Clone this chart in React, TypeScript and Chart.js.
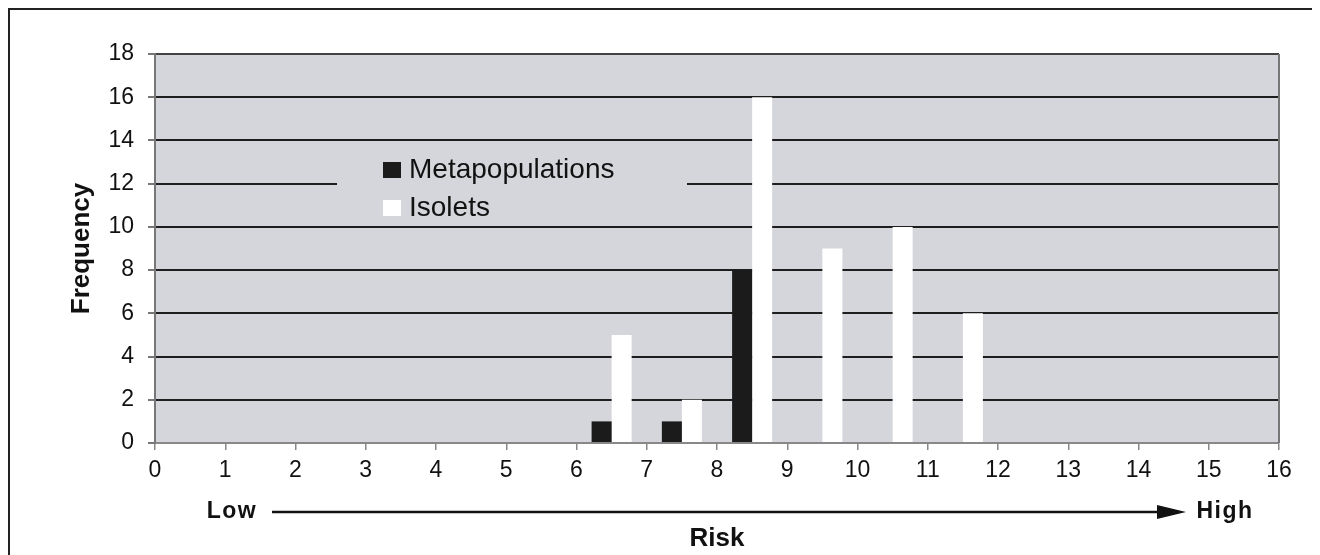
import React, { useEffect, useRef } from 'react';
import { Chart, registerables } from 'chart.js';

Chart.register(...registerables);

// Risk bins (bars sit between the integer ticks 0..16)
const riskBins = ['0', '1', '2', '3', '4', '5', '6', '7', '8', '9', '10', '11', '12', '13', '14', '15'];
const metapopulations = [0, 0, 0, 0, 0, 0, 1, 1, 8, 0, 0, 0, 0, 0, 0, 0];
const isolets = [0, 0, 0, 0, 0, 0, 5, 2, 16, 9, 10, 6, 0, 0, 0, 0];
const seriesNames = ['Metapopulations', 'Isolets'];
const seriesColors = ['#1b1b1b', '#ffffff'];
const riskMin = 0;
const riskMax = 16;
const freqMin = 0;
const freqMax = 18;
const freqStep = 2;
const xTitle = 'Risk';
const yTitle = 'Frequency';
const lowLabel = 'Low';
const highLabel = 'High';

const PLOT_BG = '#d5d6db';

export default function App() {
  const ref = useRef<HTMLCanvasElement>(null);

  useEffect(() => {
    if (!ref.current) return;

    const decor = {
      id: 'decor',
      beforeDraw(chart: any) {
        const { ctx, chartArea: a } = chart;
        ctx.save();
        ctx.fillStyle = PLOT_BG;
        ctx.fillRect(a.left, a.top, a.right - a.left, a.bottom - a.top);
        ctx.restore();
      },
      afterDatasetsDraw(chart: any) {
        const { ctx, chartArea: a } = chart;
        ctx.save();
        // right border of plot
        ctx.strokeStyle = '#777';
        ctx.lineWidth = 2;
        ctx.beginPath();
        ctx.moveTo(a.right, a.top);
        ctx.lineTo(a.right, a.bottom);
        ctx.stroke();
        // legend box inside plot
        ctx.fillStyle = PLOT_BG;
        ctx.fillRect(327, 138, 350, 74);
        const rows = [152, 190];
        ctx.font = '28px "Liberation Sans", Arial, sans-serif';
        ctx.textBaseline = 'alphabetic';
        ctx.textAlign = 'left';
        chart.data.datasets.forEach((ds: any, i: number) => {
          ctx.fillStyle = ds.backgroundColor;
          ctx.fillRect(373, rows[i], 18, 16);
          ctx.fillStyle = '#111';
          ctx.fillText(ds.label, 399, rows[i] + 16);
        });
        ctx.restore();
      },
      afterDraw(chart: any) {
        const { ctx } = chart;
        ctx.save();
        const y = 502;
        ctx.strokeStyle = '#111';
        ctx.fillStyle = '#111';
        ctx.lineWidth = 2.5;
        ctx.beginPath();
        ctx.moveTo(262, y);
        ctx.lineTo(1150, y);
        ctx.stroke();
        ctx.beginPath();
        ctx.moveTo(1147, y - 7);
        ctx.lineTo(1176, y);
        ctx.lineTo(1147, y + 7);
        ctx.closePath();
        ctx.fill();
        ctx.font = 'bold 23px "Liberation Sans", Arial, sans-serif';
        (ctx as any).letterSpacing = '1.5px';
        ctx.textBaseline = 'middle';
        ctx.textAlign = 'center';
        ctx.fillText(lowLabel, 222, y);
        ctx.fillText(highLabel, 1215, y);
        ctx.restore();
      },
    };

    const chart = new Chart(ref.current, {
      type: 'bar',
      data: {
        labels: riskBins,
        datasets: [
          {
            label: seriesNames[0],
            data: metapopulations,
            backgroundColor: seriesColors[0],
            borderWidth: 0,
            xAxisID: 'x',
            yAxisID: 'y',
            barPercentage: 1,
            categoryPercentage: 0.57,
          },
          {
            label: seriesNames[1],
            data: isolets,
            backgroundColor: seriesColors[1],
            borderWidth: 0,
            xAxisID: 'x',
            yAxisID: 'y',
            barPercentage: 1,
            categoryPercentage: 0.57,
          },
        ],
      },
      options: {
        animation: false,
        responsive: true,
        maintainAspectRatio: false,
        layout: { padding: { left: 0, right: 37, top: 44, bottom: 0 } },
        plugins: {
          legend: { display: false },
          tooltip: { enabled: false },
        },
        scales: {
          x: {
            type: 'category',
            display: false,
            offset: true,
          },
          xl: {
            type: 'linear',
            position: 'bottom',
            min: riskMin,
            max: riskMax,
            offset: false,
            ticks: {
              stepSize: 1,
              color: '#111',
              padding: 7,
              font: { family: '"Liberation Sans", Arial, sans-serif', size: 23 },
            },
            grid: {
              offset: false,
              drawOnChartArea: false,
              drawTicks: true,
              tickLength: 7,
              tickColor: '#888',
              lineWidth: 1.5,
            },
            border: { display: true, color: '#888', width: 2 },
            title: {
              display: true,
              text: xTitle,
              color: '#111',
              font: { family: '"Liberation Sans", Arial, sans-serif', size: 26, weight: 'bold' },
              padding: { top: 0, bottom: 1 },
            },
            afterFit(scale: any) {
              scale.height = 112;
            },
          },
          y: {
            type: 'linear',
            position: 'left',
            min: freqMin,
            max: freqMax,
            ticks: {
              stepSize: freqStep,
              color: '#111',
              padding: 14,
              font: { family: '"Liberation Sans", Arial, sans-serif', size: 23 },
            },
            grid: {
              drawTicks: true,
              tickLength: 7,
              tickColor: '#777',
              lineWidth: 2,
              color: (c: any) => {
                const v = c.tick ? c.tick.value : null;
                if (v === 0) return '#888';
                if (v === freqMax) return '#444';
                return '#1e1e1e';
              },
            },
            border: { display: true, color: '#777', width: 2 },
            title: {
              display: true,
              text: yTitle,
              color: '#111',
              font: { family: '"Liberation Sans", Arial, sans-serif', size: 26, weight: 'bold' },
              padding: { top: 56, bottom: 0 },
            },
            afterFit(scale: any) {
              scale.width = 145;
            },
          },
        },
      } as any,
      plugins: [decor],
    });

    return () => chart.destroy();
  }, []);

  return (
    <div
      style={{
        position: 'relative',
        width: 1310,
        height: 547,
        boxSizing: 'border-box',
        borderTop: '2px solid #222',
        borderLeft: '2px solid #222',
        borderRight: '2px solid #222',
        background: '#fff',
      }}
    >
      <canvas ref={ref} />
    </div>
  );
}
